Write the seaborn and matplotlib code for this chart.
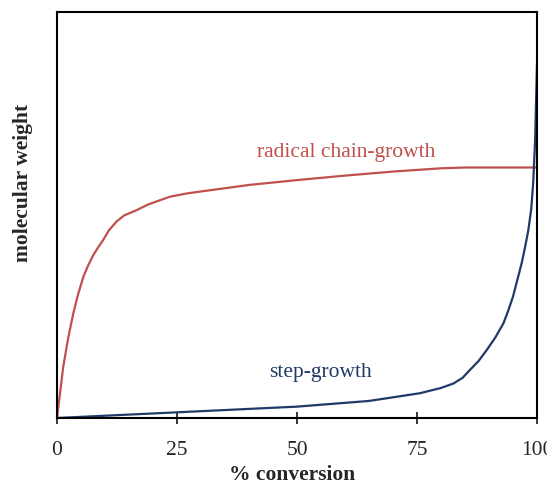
import pandas as pd
import matplotlib.pyplot as plt
import seaborn as sns

# values (molecular weight in arbitrary units, 0-100)
chain_x = [0, 1.3, 2.3, 3.4, 4.4, 5.5, 6.5, 7.5, 8.5, 9.6, 10.8, 12.4, 14, 16.6, 19, 23.5, 27,
           30, 40, 50, 60, 70, 80, 85, 100]
chain_y = [0, 12.6, 19.5, 25.8, 30.5, 34.8, 37.6, 40, 41.9, 43.8, 46.2, 48.4, 49.9, 51.2, 52.6, 54.5, 55.3,
           55.8, 57.4, 58.6, 59.7, 60.7, 61.5, 61.7, 61.7]
step_x = [0, 25, 50, 65, 75.6, 80, 82.6, 84.5, 86, 87.8, 89.5, 91.3, 93, 94, 95, 96.8, 97.5, 98.2,
          98.8, 99.2, 99.6, 99.9, 100]
step_y = [0, 1.4, 2.8, 4.2, 6.1, 7.4, 8.5, 9.9, 11.8, 14, 16.7, 19.8, 23.3, 26.4, 29.9, 38.1, 42, 46.3,
          51.5, 57.8, 68, 82.4, 87.4]
xticks = [0, 25, 50, 75, 100]

sns.set_style("ticks")
plt.rcParams['font.family'] = ['Liberation Serif', 'DejaVu Serif']

chain = pd.DataFrame({'x': chain_x, 'y': chain_y})
step = pd.DataFrame({'x': step_x, 'y': step_y})

fig = plt.figure(figsize=(5.47, 4.87), dpi=100)
ax = fig.add_axes([57 / 547, 1 - 418 / 487, 480 / 547, 406 / 487])

sns.lineplot(data=chain, x='x', y='y', ax=ax, color='#C0504D', linewidth=1.6)
sns.lineplot(data=step, x='x', y='y', ax=ax, color='#1F3A68', linewidth=1.6)

ax.set_xlim(0, 100)
ax.set_ylim(0, 100)
ax.set_xticks(xticks)
ax.set_xticklabels([str(t) for t in xticks], fontsize=15.5)
ax.set_yticks([])
ax.tick_params(axis='x', direction='inout', length=9, width=1.3, pad=12)
for s in ax.spines.values():
    s.set_linewidth(1.5)
    s.set_color('black')

ax.set_xlabel('% conversion', fontsize=15.5, fontweight='bold')
ax.xaxis.set_label_coords(0.49, -0.115)
ax.set_ylabel('molecular weight', fontsize=15.5, fontweight='bold')
ax.yaxis.set_label_coords(-0.05, 0.58)

ax.text(60.2, 65.5, 'radical chain-growth', color='#C0504D', fontsize=15.5, ha='center', va='center')
ax.text(55, 11.3, 'step-growth', color='#1F3A68', fontsize=15.5, ha='center', va='center')

fig.savefig('out.png', dpi=100)
